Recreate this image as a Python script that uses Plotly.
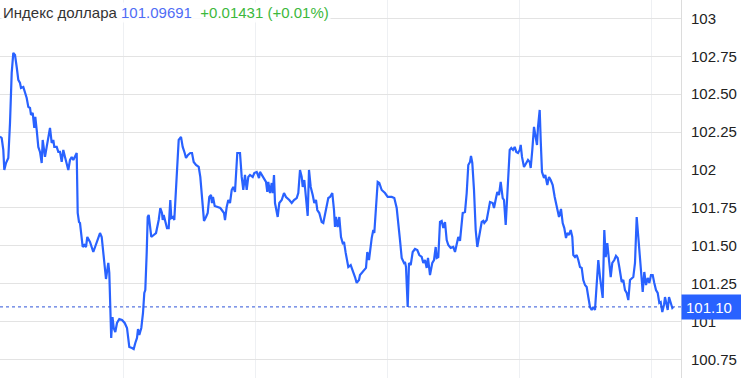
import plotly.graph_objects as go

# time index (sample position along the session) and index value
t_idx = [0, 1.7, 3.3, 4.3, 6, 8.3, 10, 11.7, 13.3, 15, 16.7, 18.3, 20, 21, 23.3, 25, 26.7, 28.3, 30, 31,
         32.7, 34.3, 35.3, 36.7, 38.3, 40, 41.7, 42.7, 45, 46.7, 50, 51.7, 53.3, 54.3, 56.7, 58.3, 60, 61.7,
         63.3, 65, 66.7, 68.3, 70, 71.7, 73.3, 75, 76.7, 77.7, 79, 80, 81.7, 82.7, 84.3, 86, 87.3, 90, 93.3,
         96.7, 98.3, 100, 101.7, 103.3, 105, 106, 108.3, 109.3, 111.2, 112.5, 113.7, 115.3, 117, 119.3, 122,
         124.7, 127, 129.3, 132, 133.7, 135.3, 137, 138, 139.3, 141.3, 143, 144.3, 145.3, 146.7, 147.7, 148.7,
         150.3, 151.3, 153.7, 156, 158.7, 160.3, 162, 162.7, 163.7, 165.3, 167, 168.7, 170.3, 171.3, 173,
         174.3, 176, 177, 178.7, 181, 182.7, 184.7, 186, 188, 190.3, 192, 193.7, 196, 198.7, 200.3, 201.3,
         202.7, 204, 206, 207.7, 209.3, 211, 212, 213, 214.7, 217, 220.3, 224,
         225, 226.7, 228.3, 230, 231.7, 233.3, 235, 237.3, 240, 241.7, 243.3, 245, 246.7, 248.3, 250, 252.7,
         254.3, 256.7, 259, 260, 261.7, 263.3, 266, 267.3, 268.3, 270, 271.7, 272.7, 274, 275, 276.7, 277.7,
         279.3, 281.7, 284, 286, 289.3, 291.7, 294, 296.7, 298.3, 300, 301.7, 302.7, 304.3, 306, 307.7, 309,
         310.7, 312.7, 314.3, 316, 317.3, 319.3, 321.7, 323.3, 325.7, 328.3, 330, 332.3, 334, 335, 336, 337.7,
         339.3, 341, 342.7, 344, 345.7, 348.3, 350.7, 352.7, 355, 356.7, 359,
         360, 363.3, 366, 367.3, 369, 371.7, 373.3, 374.3, 376, 377.7, 379.3, 381.7, 385, 387.7, 391.7, 394.3,
         396.7, 398.3, 400, 401.7, 404, 405, 406, 407.7, 409, 410.7, 412.7, 415, 417.3, 419.3, 421.7, 423.3,
         425, 426.7, 428, 430, 432.3, 434, 435.7, 436.7, 438.3, 440, 441.7, 443.3, 445, 446.7, 448.3, 450.7,
         453.3, 455, 456.7, 458.3, 460, 461, 462.7, 465, 466.7, 468.3, 470, 471, 472.3, 474, 475.7, 477.3,
         479.3, 481.7, 483.3, 484.3, 486.7, 488.3, 490, 492.7, 494, 496, 497.3, 499, 500.7, 502.7, 504, 505.7,
         507.7, 509.7, 511.3, 513, 514.7, 516.3, 518, 519.7, 520.7, 522, 524, 526.3, 528, 529.7, 530.7, 532.3,
         534, 535.3, 537, 538, 539.7, 540.7, 542, 544, 545.3, 547.3, 549, 550.7, 552.7, 554.7, 556.3, 557.5,
         559, 561, 562.7, 564.3, 566, 567.3, 569, 570.7, 572.3, 573.3, 575, 576.7, 578.3, 580, 581.7, 583.3,
         585, 586.7, 588.3, 590, 591.7, 593.3, 595, 596.7, 598.3, 600, 601.7, 602.7, 604.3, 605.7, 607.3, 609,
         610.7, 612.3, 614.3, 616, 617.7, 619.3, 621.7, 623.3, 625, 626.7, 628.3, 630, 631.7, 633.3, 635,
         636.7, 638.3, 640, 641.7, 642.7, 644.3, 646, 647.7, 649.3, 651, 652.7, 654.3, 656, 657.7, 659.3,
         660.7, 662.3, 664, 665, 666.7, 667.7, 669, 670.7, 672.3, 673.3]

dxy = [102.220, 102.211, 102.132, 102.000, 102.046, 102.079, 102.310, 102.640, 102.772, 102.759, 102.679,
       102.594, 102.574, 102.541, 102.547, 102.514, 102.475, 102.416, 102.409, 102.363, 102.376, 102.277,
       102.350, 102.264, 102.152, 102.119, 102.046, 102.198, 102.086, 102.152, 102.277, 102.178, 102.198,
       102.152, 102.152, 102.119, 102.119, 102.053, 102.132, 102.086, 102.046, 102.000, 102.066, 102.086,
       102.066, 102.086, 102.112, 101.716, 101.657, 101.650, 101.558, 101.492, 101.505, 101.492, 101.558,
       101.525, 101.459, 101.525, 101.551, 101.584, 101.558, 101.453, 101.340, 101.281, 101.387, 101.321,
       100.892, 101.030, 100.958, 100.931, 100.991, 101.017, 101.011, 100.991, 100.958, 100.833, 100.826,
       100.819, 100.859, 100.892, 100.951, 100.912, 100.958, 101.057, 101.189, 101.208, 101.453, 101.690,
       101.703, 101.624, 101.558, 101.571, 101.584, 101.670, 101.749, 101.716, 101.670, 101.703, 101.650,
       101.617, 101.617, 101.802, 101.683, 101.690, 101.670, 101.848, 102.000, 102.198, 102.218, 102.152,
       102.112, 102.079, 102.099, 102.112, 102.112, 102.053, 102.033, 102.020, 101.954, 101.888, 101.756,
       101.664, 101.690, 101.716, 101.822, 101.835, 101.782, 101.822, 101.763, 101.756, 101.749, 101.716,
       101.670, 101.756, 101.802, 101.782, 101.868, 101.888, 101.855, 102.112, 102.112, 101.954, 101.868,
       101.967, 101.868, 101.954, 101.967, 101.954, 101.980, 101.987, 101.947, 101.987, 101.967, 101.954,
       101.921, 101.855, 101.921, 101.848, 101.914, 101.848, 101.967, 101.782, 101.736, 101.690, 101.782,
       101.802, 101.848, 101.822, 101.802, 101.782, 101.802, 101.815, 101.848, 102.000, 101.954, 101.888,
       101.934, 101.822, 101.697, 102.000, 101.888, 101.835, 101.782, 101.802, 101.736, 101.716, 101.657,
       101.650, 101.736, 101.815, 101.822, 101.848, 101.736, 101.624, 101.690, 101.624, 101.690, 101.558,
       101.518, 101.525, 101.453, 101.360, 101.373, 101.340, 101.294, 101.255, 101.274,
       101.307, 101.334, 101.354, 101.459, 101.406, 101.551, 101.604, 101.584, 101.756, 101.921, 101.914,
       101.868, 101.848, 101.822, 101.822, 101.815, 101.749, 101.624, 101.538, 101.420, 101.387, 101.393,
       101.360, 101.096, 101.387, 101.373, 101.459, 101.479, 101.472, 101.439, 101.426, 101.387, 101.406,
       101.354, 101.420, 101.307, 101.387, 101.406, 101.492, 101.420, 101.426, 101.657, 101.664, 101.617,
       101.657, 101.538, 101.505, 101.486, 101.492, 101.459, 101.518, 101.558, 101.532, 101.617, 101.716,
       101.723, 101.848, 102.033, 102.053, 102.092, 102.046, 101.868, 101.604, 101.492, 101.571, 101.657,
       101.664, 101.650, 101.670, 101.723, 101.789, 101.782, 101.749, 101.815, 101.855, 101.835, 101.921,
       101.815, 101.802, 101.637, 101.914, 102.132, 102.145, 102.132, 102.152, 102.119, 102.112, 102.132,
       102.165, 102.086, 102.020, 102.053, 102.066, 102.053, 102.013, 102.132, 102.284, 102.231, 102.165,
       102.284, 102.396, 102.198, 101.987, 101.947, 101.967, 101.901, 101.954, 101.934, 101.901, 101.822,
       101.756, 101.736, 101.690, 101.743, 101.650, 101.617, 101.551, 101.584, 101.571, 101.604, 101.558,
       101.439, 101.426, 101.439, 101.406, 101.360, 101.354, 101.274, 101.241, 101.228, 101.162, 101.096,
       101.077, 101.096, 101.077, 101.255, 101.406, 101.294, 101.208, 101.156, 101.604, 101.426, 101.518,
       101.387, 101.294, 101.387, 101.406, 101.433, 101.420, 101.360, 101.261, 101.274, 101.208, 101.189,
       101.142, 101.274, 101.288, 101.294, 101.387, 101.690, 101.558, 101.426, 101.294, 101.195, 101.327,
       101.241, 101.288, 101.255, 101.307, 101.307, 101.255, 101.208, 101.189, 101.123, 101.129, 101.063,
       101.110, 101.162, 101.110, 101.077, 101.162, 101.123, 101.090, 101.097]

y_ticks = [103, 102.75, 102.5, 102.25, 102, 101.75, 101.5, 101.25, 101, 100.75]
y_tick_text = ["103", "102.75", "102.50", "102.25", "102", "101.75", "101.50", "101.25", "101", "100.75"]

title_name = "Индекс доллара"
last_value = "101.09691"
change_text = "+0.01431 (+0.01%)"
current_value = 101.09691
current_label = "101.10"

BLUE = "#2962ff"

fig = go.Figure()
fig.add_trace(go.Scatter(x=t_idx, y=dxy, mode="lines",
                         line=dict(color=BLUE, width=2.2), hoverinfo="skip"))

fig.add_shape(type="line", xref="paper", x0=0, x1=1, yref="y",
              y0=current_value, y1=current_value,
              line=dict(color="#2f55d8", width=1, dash="dot"))

fig.add_annotation(xref="paper", x=1, xanchor="left", yref="y", y=current_value,
                   yanchor="middle", text=current_label, showarrow=False,
                   bgcolor=BLUE, font=dict(color="white", size=15, family="Arial"),
                   width=52, height=16, borderpad=4, align="left")

fig.add_annotation(xref="paper", x=0, xanchor="left", xshift=1, yref="paper", y=1,
                   yanchor="top", yshift=-2, showarrow=False, align="left",
                   text=(f"<span style='color:#333333'>{title_name}</span> "
                         f"<span style='color:#4f6cf5'>{last_value}</span>  "
                         f"<span style='color:#3cb83c'>{change_text}</span>"),
                   font=dict(size=15, family="Arial"), bgcolor="rgba(255,255,255,0.85)")

fig.update_layout(
    width=741, height=378,
    margin=dict(l=0, r=60, t=0, b=0),
    paper_bgcolor="white", plot_bgcolor="white",
    showlegend=False,
    xaxis=dict(range=[0, 681], showticklabels=False, ticks="", zeroline=False,
               showgrid=True, gridcolor="#eef0f3", tick0=123, dtick=132, fixedrange=True),
    yaxis=dict(side="right", range=[100.628, 103.121], tickvals=y_ticks, ticktext=y_tick_text,
               showgrid=True, gridcolor="#e3e3e3", zeroline=False,
               showline=True, linecolor="#dcdcdc", linewidth=1,
               ticks="", ticklabelstandoff=6,
               tickfont=dict(size=15, family="Arial", color="#222222")),
)

fig.write_html("out.html")
